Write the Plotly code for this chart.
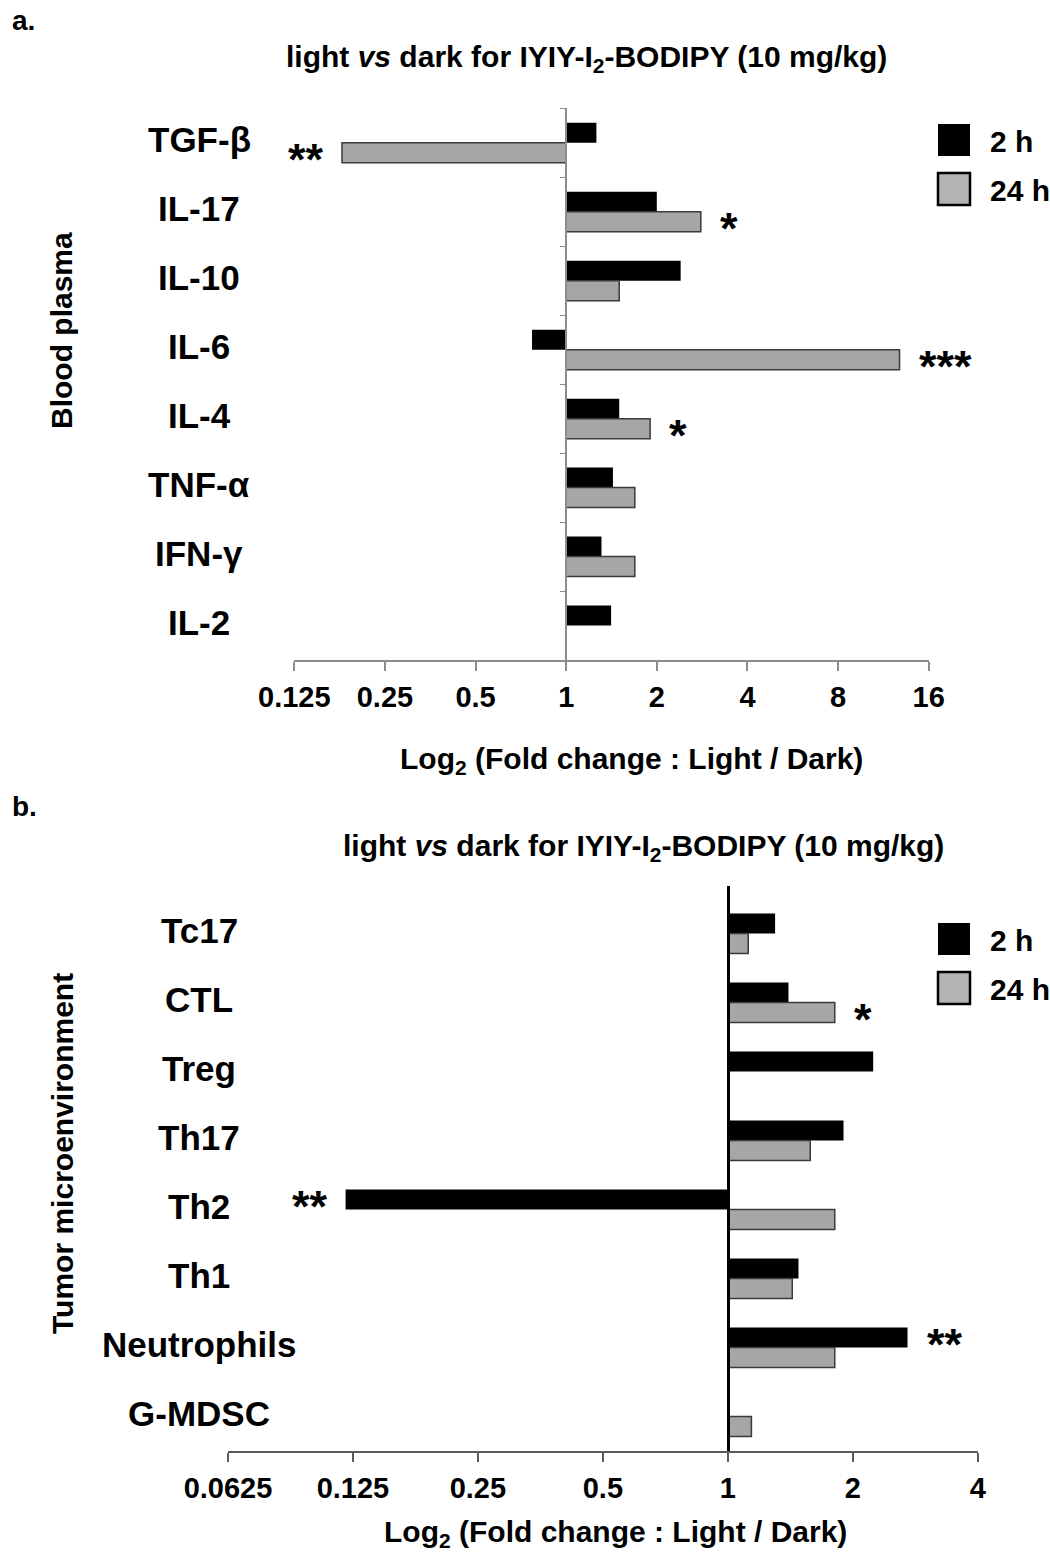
import numpy as np
import plotly.graph_objects as go

# ---------------- data ----------------
cats_a = ["TGF-β", "IL-17", "IL-10", "IL-6", "IL-4", "TNF-α", "IFN-γ", "IL-2"]
fold_a_2h = [1.26, 2.0, 2.4, 0.77, 1.5, 1.43, 1.31, 1.41]
fold_a_24h = [0.18, 2.8, 1.5, 12.8, 1.9, 1.69, 1.69, None]
ticks_a = ["0.125", "0.25", "0.5", "1", "2", "4", "8", "16"]

cats_b = ["Tc17", "CTL", "Treg", "Th17", "Th2", "Th1", "Neutrophils", "G-MDSC"]
fold_b_2h = [1.30, 1.40, 2.24, 1.9, 0.12, 1.48, 2.71, None]
fold_b_24h = [1.12, 1.81, None, 1.58, 1.81, 1.43, 1.81, 1.14]
ticks_b = ["0.0625", "0.125", "0.25", "0.5", "1", "2", "4"]

# significance marks: (category, series, text)
sig_a = [("TGF-β", "24 h", "**"), ("IL-17", "24 h", "*"), ("IL-6", "24 h", "***"), ("IL-4", "24 h", "*")]
sig_b = [("CTL", "24 h", "*"), ("Th2", "2 h", "**"), ("Neutrophils", "2 h", "**")]

series_names = ["2 h", "24 h"]
title_text = "light <i>vs</i> dark for IYIY-I<sub>2</sub>-BODIPY (10 mg/kg)"
xtitle_text = "Log<sub>2</sub> (Fold change : Light / Dark)"

# ---------------- helpers ----------------
W, H = 1050, 1554
FONT = "Liberation Sans, Arial, sans-serif"


def px_x(p):
    return p / W


def px_y(p):
    return 1 - p / H


def lg(vals):
    return [None if v is None else float(np.log2(v)) for v in vals]


BAR_W = 0.29
COL_2H = "#000000"
COL_24H = "#a6a6a6"

fig = go.Figure()

panels = [
    dict(cats=cats_a, v2=fold_a_2h, v24=fold_a_24h, ticks=ticks_a, sig=sig_a,
         xa="x", ya="y", xr=[-3, 4], yr=[7.5, -0.5],
         xdom=[px_x(294.3), px_x(928.7)], ydom=[px_y(660), px_y(108.3)]),
    dict(cats=cats_b, v2=fold_b_2h, v24=fold_b_24h, ticks=ticks_b, sig=sig_b,
         xa="x2", ya="y2", xr=[-4, 2], yr=[7.5, -0.69],
         xdom=[px_x(228), px_x(977.7)], ydom=[px_y(1451), px_y(886)]),
]

for p in panels:
    pos = list(range(len(p["cats"])))
    fig.add_trace(go.Bar(
        y=pos, x=lg(p["v2"]), orientation="h", name="2 h",
        width=BAR_W, offset=-BAR_W, marker=dict(color=COL_2H, line=dict(width=0)),
        xaxis=p["xa"], yaxis=p["ya"], showlegend=False))
    fig.add_trace(go.Bar(
        y=pos, x=lg(p["v24"]), orientation="h", name="24 h",
        width=BAR_W, offset=0, marker=dict(color=COL_24H, line=dict(color="#3a3a3a", width=1.5)),
        xaxis=p["xa"], yaxis=p["ya"], showlegend=False))

ann = []
bold = dict(family=FONT, color="black", weight="bold")

for i, p in enumerate(panels):
    # category labels
    for j, c in enumerate(p["cats"]):
        ann.append(dict(x=px_x(199), xref="paper", y=j, yref=p["ya"], text=c,
                        showarrow=False, xanchor="center", yanchor="middle", yshift=3,
                        font=dict(size=35, **bold)))
    # significance stars
    for c, s, t in p["sig"]:
        j = p["cats"].index(c)
        vals = p["v2"] if s == "2 h" else p["v24"]
        v = float(np.log2(vals[j]))
        yy = j - BAR_W / 2 if s == "2 h" else j + BAR_W / 2
        neg = v < 0
        ann.append(dict(x=v, xref=p["xa"], y=yy, yref=p["ya"], text=t, showarrow=False,
                        xanchor="right" if neg else "left", xshift=-16 if neg else 17,
                        yanchor="middle", yshift=-7,
                        font=dict(size=45, **bold)))

# titles
ann.append(dict(x=px_x(586), y=px_y(58), xref="paper", yref="paper", text=title_text,
                showarrow=False, xanchor="center", yanchor="middle", font=dict(size=30, **bold)))
ann.append(dict(x=px_x(643), y=px_y(848), xref="paper", yref="paper", text=title_text,
                showarrow=False, xanchor="center", yanchor="middle", font=dict(size=30, **bold)))
# x-axis titles
ann.append(dict(x=px_x(631), y=px_y(760), xref="paper", yref="paper", text=xtitle_text,
                showarrow=False, xanchor="center", yanchor="middle", font=dict(size=30, **bold)))
ann.append(dict(x=px_x(615), y=px_y(1533), xref="paper", yref="paper", text=xtitle_text,
                showarrow=False, xanchor="center", yanchor="middle", font=dict(size=30, **bold)))
# y-axis titles
ann.append(dict(x=px_x(62), y=px_y(331), xref="paper", yref="paper", text="Blood plasma",
                textangle=-90, showarrow=False, xanchor="center", yanchor="middle",
                font=dict(size=30, **bold)))
ann.append(dict(x=px_x(62), y=px_y(1154), xref="paper", yref="paper", text="Tumor microenvironment",
                textangle=-90, showarrow=False, xanchor="center", yanchor="middle",
                font=dict(size=30, **bold)))
# panel letters
ann.append(dict(x=px_x(10), y=px_y(21), xref="paper", yref="paper", text="a.",
                showarrow=False, xanchor="left", yanchor="middle", font=dict(size=28, **bold)))
ann.append(dict(x=px_x(10), y=px_y(806), xref="paper", yref="paper", text="b.",
                showarrow=False, xanchor="left", yanchor="middle", font=dict(size=28, **bold)))

# legends (custom)
shapes = []
for top, (b1, b2) in [(0, (124, 173)), (799, (124, 173))]:
    for name, yb, fill, lw in [("2 h", b1, COL_2H, 0), ("24 h", b2, "#b3b3b3", 2.5)]:
        y0 = yb + top
        shapes.append(dict(type="rect", xref="paper", yref="paper",
                           x0=px_x(938), x1=px_x(970), y0=px_y(y0 + 32), y1=px_y(y0),
                           fillcolor=fill, line=dict(color="black", width=lw)))
        ann.append(dict(x=px_x(988), y=px_y(y0 + 17), xref="paper", yref="paper", text=name,
                        showarrow=False, xanchor="left", yanchor="middle",
                        font=dict(size=30, **bold)))

tickfont = dict(size=29, family=FONT, color="black", weight="bold")

# axes
for i, p in enumerate(panels):
    sfx = "" if i == 0 else "2"
    lo, hi = p["xr"]
    zero_pos = p["xdom"][0] + (p["xdom"][1] - p["xdom"][0]) * (0 - lo) / (hi - lo)
    fig.update_layout(**{
        "xaxis" + sfx: dict(domain=p["xdom"], range=p["xr"], anchor="y" + sfx,
                            tickvals=list(range(lo, hi + 1)), ticktext=p["ticks"],
                            showgrid=False, zeroline=False, showline=True,
                            linecolor="#8c8c8c" if i == 0 else "#5a5a5a", linewidth=1.5,
                            ticks="outside", ticklen=9, tickwidth=1.5,
                            tickcolor="#8c8c8c" if i == 0 else "#5a5a5a",
                            tickfont=tickfont, ticklabelstandoff=1, fixedrange=True,
                            automargin=False),
        "yaxis" + sfx: dict(domain=p["ydom"], range=p["yr"], anchor="free", position=zero_pos,
                            showgrid=False, zeroline=False, showline=True,
                            linecolor="#8c8c8c" if i == 0 else "black",
                            linewidth=1.5 if i == 0 else 2.5,
                            ticks="outside" if i == 0 else "", ticklen=5, tickwidth=1.2,
                            tickcolor="#8c8c8c",
                            tickvals=[k - 0.5 for k in range(len(p["cats"]))],
                            showticklabels=False, fixedrange=True, automargin=False),
    })

fig.update_layout(
    width=W, height=H, margin=dict(l=0, r=0, t=0, b=0, autoexpand=False),
    paper_bgcolor="white", plot_bgcolor="white",
    barmode="overlay", showlegend=False,
    annotations=ann, shapes=shapes,
    font=dict(family=FONT, color="black"),
)

fig.write_html("out.html", config={"displayModeBar": False},
               post_script="document.body.style.margin='0px';")
